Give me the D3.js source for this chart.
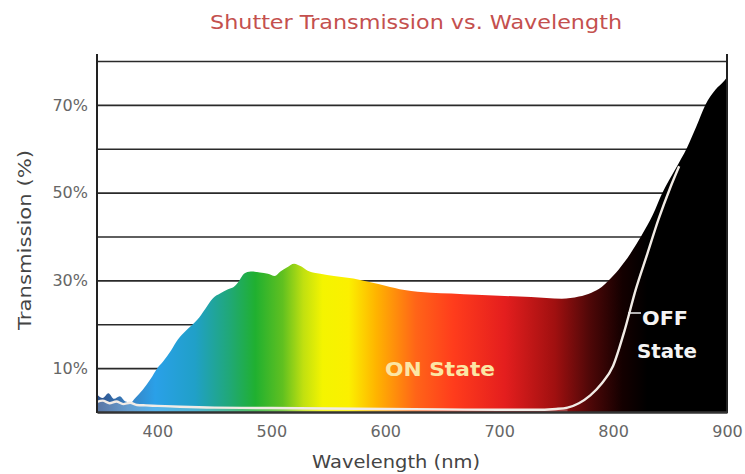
<!DOCTYPE html>
<html>
<head>
<meta charset="utf-8">
<script src="https://cdn.jsdelivr.net/npm/d3@7"></script>
<style>
  html, body { margin: 0; padding: 0; background: #fff; }
  svg { display: block; }
</style>
</head>
<body>
<svg id="chart" width="745" height="474"></svg>
<script>
// ---- data ----
const onWavelength = [347,352,357,362,367,372,377,380,387,394,400,405,412,418,425,435,442,449,455,462,467,472,476,482,490,497,503,508,514,520,526,532,543,555,572,588,600,617,640,658,680,700,728,755,770,781,790,796,805,815,825,835,843,855,865,873,881,890,898,900];
const onTransmission = [4.0,3.2,4.3,3.0,3.6,2.4,2.2,3.0,5.0,7.5,10,11.5,14,16.5,18.5,21,23.5,26,27,28,28.5,30,31.5,32,31.8,31.5,31,32,33,33.8,33.2,32.2,31.5,31,30.4,29.5,28.8,27.8,27.2,27,26.7,26.5,26.2,25.8,26.3,27.2,28.5,30,32.5,36,40.2,45,49.8,55.5,60.3,65,70,73.5,75.6,76.3];
const offWavelength = [347,352,358,364,370,376,382,390,400,420,450,500,550,600,650,700,730,750,760,770,780,790,800,810,820,830,840,850,858];
const offTransmission = [2.3,2.6,2.0,2.4,1.8,2.1,1.6,1.5,1.4,1.2,1.0,0.9,0.8,0.7,0.6,0.5,0.5,0.7,1.0,2.0,3.8,6.5,10.5,18.5,28,36,44,51,56];
const gridValues = [10,20,30,40,50,60,70,80];
const yTickValues = [10,30,50,70];
const yTickLabels = ["10%","30%","50%","70%"];
const xTickValues = [400,500,600,700,800,900];
const spectrumWavelength = [347,374,398,433,463,486,510,528,545,568,592,627,660,705,749,779,808,830,900];
const spectrumColor = ["#2c4f8a","#3a80c0","#2aa0e8","#20a0c8","#20a878","#20b030","#60c020","#c0e010","#f4f400","#fbf000","#ffb400","#ff6418","#ff3c1c","#e41e1e","#a01010","#500808","#140000","#000000","#000000"];
const titleText = "Shutter Transmission vs. Wavelength";
const xTitle = "Wavelength (nm)";
const yTitle = "Transmission (%)";

// ---- layout ----
const svg = d3.select("#chart");
const pL = 97, pR = 727, pT = 61, pB = 412;
const x = d3.scaleLinear().domain([347, 900]).range([pL, pR]);
const y = d3.scaleLinear().domain([0, 80]).range([pB, pT]);

// gradient
const defs = svg.append("defs");
const grad = defs.append("linearGradient").attr("id", "spec")
  .attr("gradientUnits", "userSpaceOnUse")
  .attr("x1", x(347)).attr("x2", x(900)).attr("y1", 0).attr("y2", 0);
spectrumWavelength.forEach((w, i) => {
  grad.append("stop").attr("offset", (x(w) - x(347)) / (x(900) - x(347))).attr("stop-color", spectrumColor[i]);
});

// gridlines
svg.append("g").attr("transform", `translate(${pL},0)`)
  .call(d3.axisLeft(y).tickValues(gridValues).tickSize(-(pR - pL)).tickFormat(""))
  .call(g => g.select(".domain").remove())
  .call(g => g.selectAll("line").attr("stroke", "#2a2a2a").attr("stroke-width", 1.6));

// ON area
const onData = onWavelength.map((w, i) => [w, onTransmission[i]]);
svg.append("path").datum(onData)
  .attr("fill", "url(#spec)")
  .attr("d", d3.area().x(d => x(d[0])).y0(y(0)).y1(d => y(d[1])).curve(d3.curveMonotoneX));

// OFF faint area + line
const offData = offWavelength.map((w, i) => [w, offTransmission[i]]);
svg.append("path").datum(offData.filter(d => d[0] <= 760))
  .attr("fill", "#ffffff").attr("opacity", 0.22)
  .attr("d", d3.area().x(d => x(d[0])).y0(y(0)).y1(d => y(d[1])).curve(d3.curveMonotoneX));
svg.append("path").datum(offData)
  .attr("fill", "none").attr("stroke", "#f2ece6").attr("stroke-width", 2.4)
  .attr("d", d3.line().x(d => x(d[0])).y(d => y(d[1])).curve(d3.curveMonotoneX));

// axes frame
svg.append("line").attr("x1", pL).attr("x2", pL).attr("y1", 54).attr("y2", pB + 1)
  .attr("stroke", "#222").attr("stroke-width", 2);
svg.append("line").attr("x1", pR).attr("x2", pR).attr("y1", 54).attr("y2", pB + 1)
  .attr("stroke", "#222").attr("stroke-width", 2);

// x axis
const xAxis = svg.append("g").attr("transform", `translate(0,${pB})`)
  .call(d3.axisBottom(x).tickValues(xTickValues).tickSize(0).tickPadding(14));
xAxis.select(".domain").attr("stroke", "#333").attr("stroke-width", 2.5);
xAxis.selectAll("text").attr("font-family", "DejaVu Sans, sans-serif").attr("font-size", 16).attr("fill", "#666");

// y axis labels
const yAxis = svg.append("g").attr("transform", `translate(${pL},0)`)
  .call(d3.axisLeft(y).tickValues(yTickValues).tickSize(0).tickPadding(9)
    .tickFormat((d, i) => yTickLabels[i]));
yAxis.select(".domain").remove();
yAxis.selectAll("text").attr("font-family", "DejaVu Sans, sans-serif").attr("font-size", 16).attr("fill", "#666");

// titles
svg.append("text").attr("x", 416).attr("y", 29).attr("text-anchor", "middle")
  .attr("font-family", "DejaVu Sans, sans-serif").attr("font-size", 19).attr("fill", "#c4504e")
  .attr("textLength", 412).attr("lengthAdjust", "spacingAndGlyphs").text(titleText);
svg.append("text").attr("x", 396).attr("y", 468).attr("text-anchor", "middle")
  .attr("font-family", "DejaVu Sans, sans-serif").attr("font-size", 18).attr("fill", "#444")
  .attr("textLength", 168).attr("lengthAdjust", "spacingAndGlyphs").text(xTitle);
svg.append("text").attr("transform", "translate(31,240) rotate(-90)").attr("text-anchor", "middle")
  .attr("font-family", "DejaVu Sans, sans-serif").attr("font-size", 18).attr("fill", "#444")
  .attr("textLength", 180).attr("lengthAdjust", "spacingAndGlyphs").text(yTitle);

// annotations
svg.append("text").attr("x", 440).attr("y", 376).attr("text-anchor", "middle")
  .attr("font-family", "DejaVu Sans, sans-serif").attr("font-size", 19).attr("font-weight", "bold")
  .attr("fill", "#fbe6a4").attr("textLength", 110).attr("lengthAdjust", "spacingAndGlyphs").text("ON State");
svg.append("line").attr("x1", 628).attr("x2", 641).attr("y1", 313).attr("y2", 313)
  .attr("stroke", "#eee").attr("stroke-width", 1.5);
svg.append("text").attr("x", 642).attr("y", 325)
  .attr("font-family", "DejaVu Sans, sans-serif").attr("font-size", 20).attr("font-weight", "bold")
  .attr("fill", "#f4f4f4").attr("textLength", 46).attr("lengthAdjust", "spacingAndGlyphs").text("OFF");
svg.append("text").attr("x", 637).attr("y", 358)
  .attr("font-family", "DejaVu Sans, sans-serif").attr("font-size", 20).attr("font-weight", "bold")
  .attr("fill", "#f4f4f4").attr("textLength", 60).attr("lengthAdjust", "spacingAndGlyphs").text("State");
</script>
</body>
</html>
